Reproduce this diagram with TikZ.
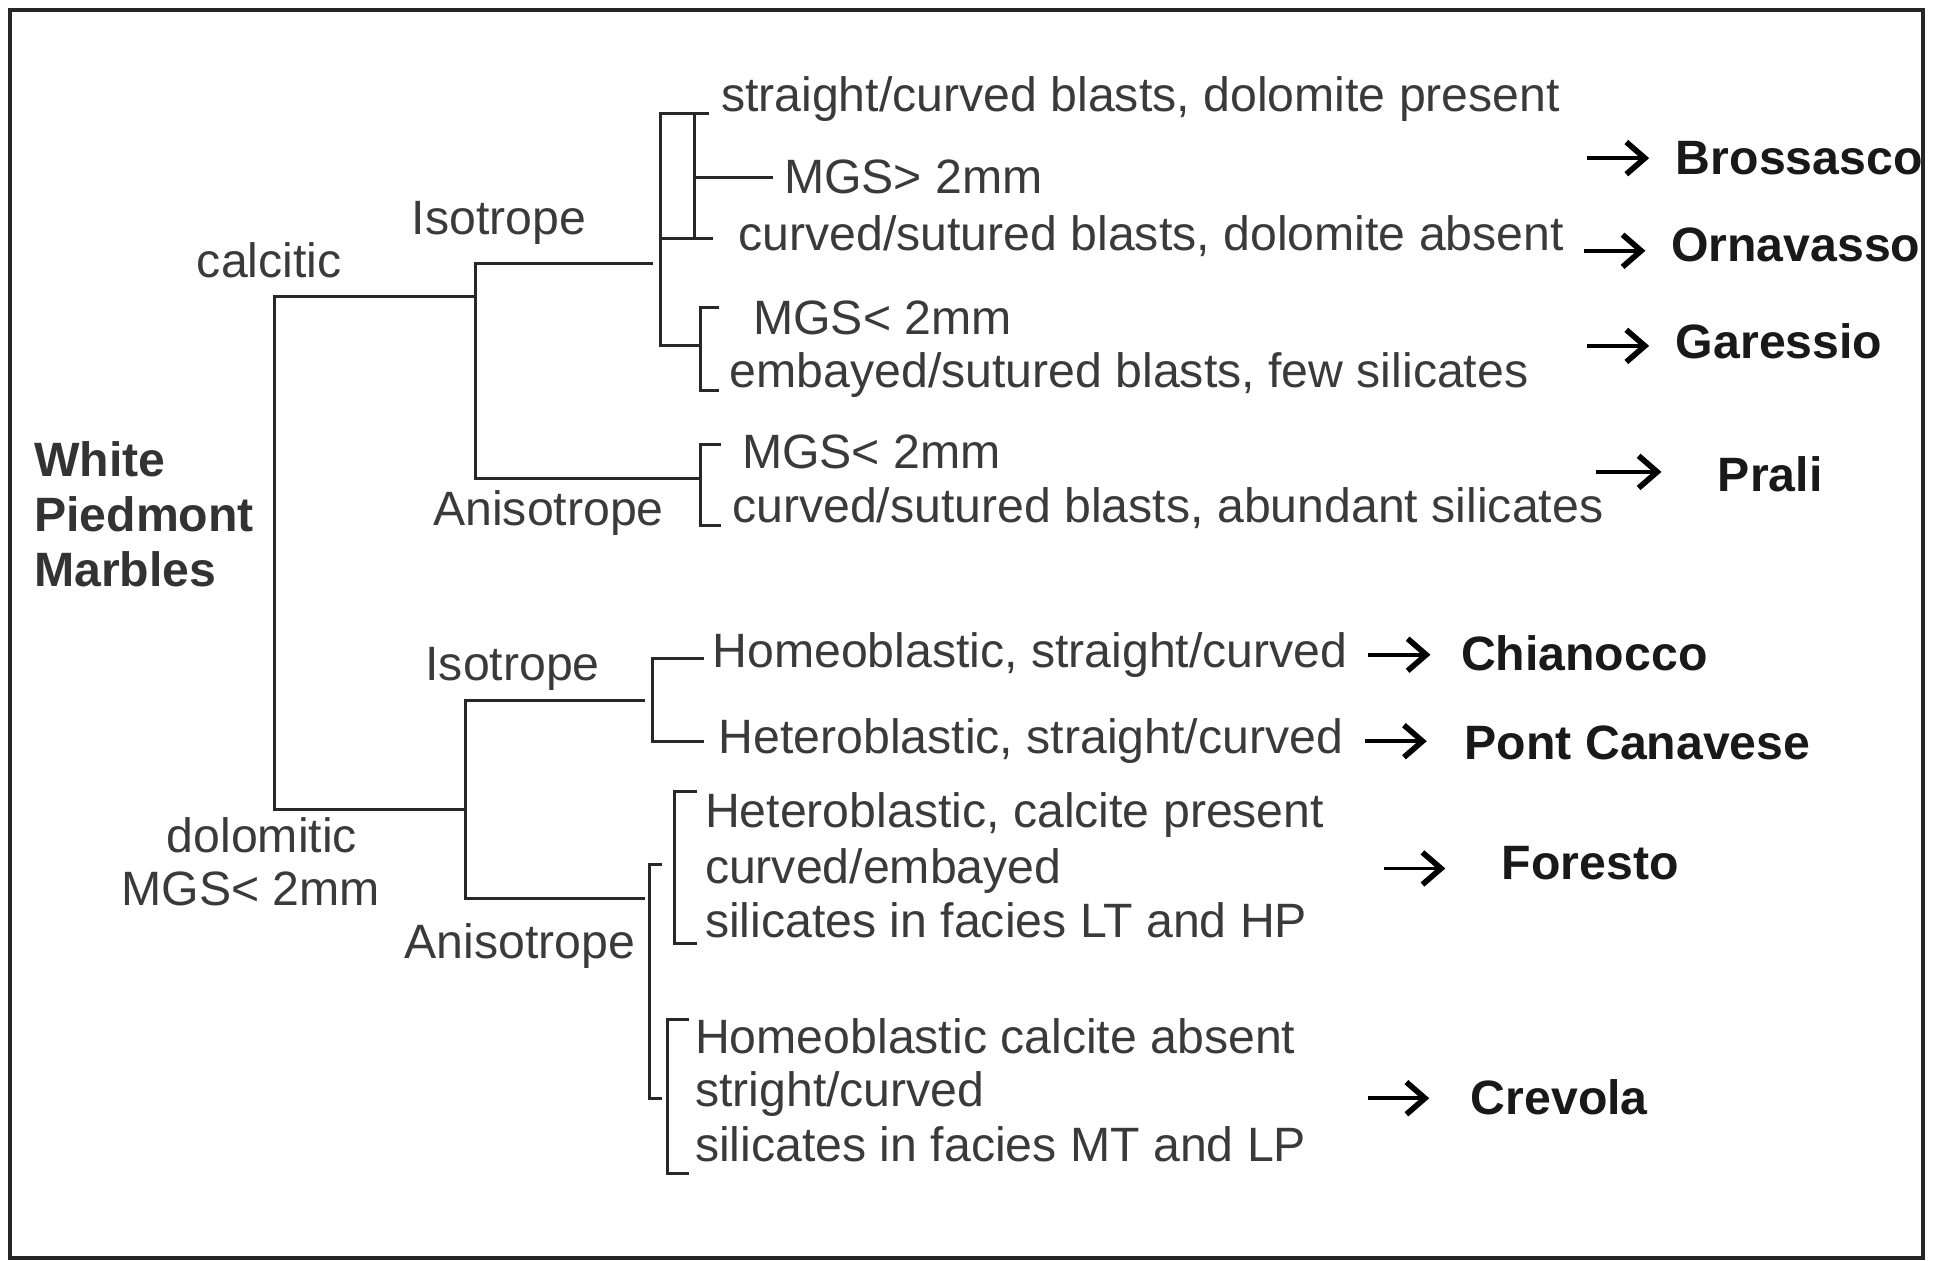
\documentclass[tikz,border=0pt]{standalone}
\usepackage{fontspec}
\setmainfont{Liberation Sans}
\usepackage{tikz}
\usetikzlibrary{arrows.meta,calc}
\definecolor{inkgrey}{RGB}{58,58,58}
\definecolor{linegrey}{RGB}{40,40,40}

\begin{document}
\begin{tikzpicture}[x=0.01cm,y=-0.01cm,
  every node/.style={inner sep=0pt,font=\fontsize{11.1}{13}\selectfont},
  txt/.style={anchor=base west,text=inkgrey},
  cls/.style={anchor=base,text=inkgrey},
  site/.style={anchor=base west,font=\fontsize{11.1}{13}\selectfont\bfseries,text=black!90},
  branch/.style={draw=linegrey,line width=0.7pt},
  toarr/.style={draw=black,line width=0.9pt,-{Straight Barb[length=1.5mm,width=2.6mm,line width=1.3pt]}}]
\useasboundingbox (0,0) rectangle (1568,1020);
\draw[line width=0.9pt,draw=black!85] (8,8) rectangle (1557,1018);

% root
\node[site,text=black!80] (white) at (27,386) {White};
\node[site,text=black!80] (piedmont) at (27,430) {Piedmont};
\node[site,text=black!80] (marbles) at (27,475) {Marbles};

% calcitic branch
\node[cls] (calc) at (218,225) {calcitic};
\node[cls] (isoA) at (404,190) {Isotrope};
\node[cls] (aniA) at (444,425) {Anisotrope};
\node[txt] (d1) at (583,90) {straight/curved blasts, dolomite present};
\node[txt] (d2) at (634,157) {MGS> 2mm};
\node[txt] (d3) at (597,203) {curved/sutured blasts, dolomite absent};
\node[txt] (d4) at (609,271) {MGS< 2mm};
\node[txt] (d5) at (590,314) {embayed/sutured blasts, few silicates};
\node[txt] (d6) at (600,379) {MGS< 2mm};
\node[txt] (d7) at (592,423) {curved/sutured blasts, abundant silicates};

% dolomitic branch
\node[cls] (dolo) at (212,690) {dolomitic};
\node[cls] (dmgs) at (203,733) {MGS< 2mm};
\node[cls] (isoB) at (415,551) {Isotrope};
\node[cls] (aniB) at (421,776) {Anisotrope};
\node[txt] (e1) at (576,540) {Homeoblastic, straight/curved};
\node[txt] (e2) at (581,610) {Heteroblastic, straight/curved};
\node[txt] (e3) at (570,670) {Heteroblastic, calcite present};
\node[txt] (e4) at (570,715) {curved/embayed};
\node[txt] (e5) at (570,759) {silicates in facies LT and HP};
\node[txt] (e6) at (562,853) {Homeoblastic calcite absent};
\node[txt] (e7) at (562,896) {stright/curved};
\node[txt] (e8) at (562,940) {silicates in facies MT and LP};

% sites
\node[site] (bro) at (1356,141) {Brossasco};
\node[site] (orn) at (1352,212) {Ornavasso};
\node[site] (gar) at (1356,290) {Garessio};
\node[site] (pra) at (1390,398) {Prali};
\node[site] (chi) at (1182,543) {Chianocco};
\node[site] (pon) at (1185,615) {Pont Canavese};
\node[site] (fore) at (1215,712) {Foresto};
\node[site] (cre) at (1190,902) {Crevola};

% tree
\coordinate (rtop) at (222,240);
\coordinate (rbot) at (222,655);
\coordinate (cj) at (385,240);
\coordinate (dj) at (377,655);
\draw[branch] (cj) -- (rtop) -- (rbot) -- (dj);

\coordinate (cjI) at (385,213);
\coordinate (cjA) at (385,387);
\coordinate (oTop) at (535,92);
\coordinate (oBot) at (535,280);
\coordinate (iTop) at (562,92);
\coordinate (iBot) at (562,193);
\draw[branch] (529,213) -- (cjI) -- (cjA) -- (567,387);
\draw[branch] (574,92) -- (oTop) -- (oBot) -- (567,280);
\draw[branch] (iTop) -- (iBot);
\draw[branch,shorten >=0.8mm] (iTop |- d2.west) -- (d2.west);
\draw[branch] (oTop |- iBot) -- (577,193);
\draw[branch] (582,249) -- (567,249) -- (567,316) -- (582,316);
\draw[branch] (584,360) -- (567,360) -- (567,425) -- (584,425);

\coordinate (djI) at (377,567);
\coordinate (djA) at (377,727);
\draw[branch] (522,567) -- (djI) -- (djA) -- (522,727);
\draw[branch] (570,533) -- (528,533) -- (528,600) -- (570,600);
\draw[branch] (536,700) -- (526,700) -- (526,889) -- (536,889);
\draw[branch] (564,641) -- (546,641) -- (546,764) -- (564,764);
\draw[branch] (558,825) -- (540,825) -- (540,950) -- (558,950);

% arrows to sites
\coordinate (tBro) at (1285,128);
\coordinate (tOrn) at (1282,203);
\coordinate (tGar) at (1285,280);
\coordinate (tPra) at (1292,382);
\coordinate (tChi) at (1107,530);
\coordinate (tPon) at (1105,600);
\coordinate (tFor) at (1120,703);
\coordinate (tCre) at (1107,889);
\draw[toarr,shorten >=2.1mm] (tBro) -- (tBro -| bro.west);
\draw[toarr,shorten >=2.0mm] (tOrn) -- (tOrn -| orn.west);
\draw[toarr,shorten >=2.1mm] (tGar) -- (tGar -| gar.west);
\draw[toarr,shorten >=4.5mm] (tPra) -- (tPra -| pra.west);
\draw[toarr,shorten >=2.4mm] (tChi) -- (tChi -| chi.west);
\draw[toarr,shorten >=3.0mm] (tPon) -- (tPon -| pon.west);
\draw[toarr,shorten >=4.5mm] (tFor) -- (tFor -| fore.west);
\draw[toarr,shorten >=3.3mm] (tCre) -- (tCre -| cre.west);
\end{tikzpicture}
\end{document}
